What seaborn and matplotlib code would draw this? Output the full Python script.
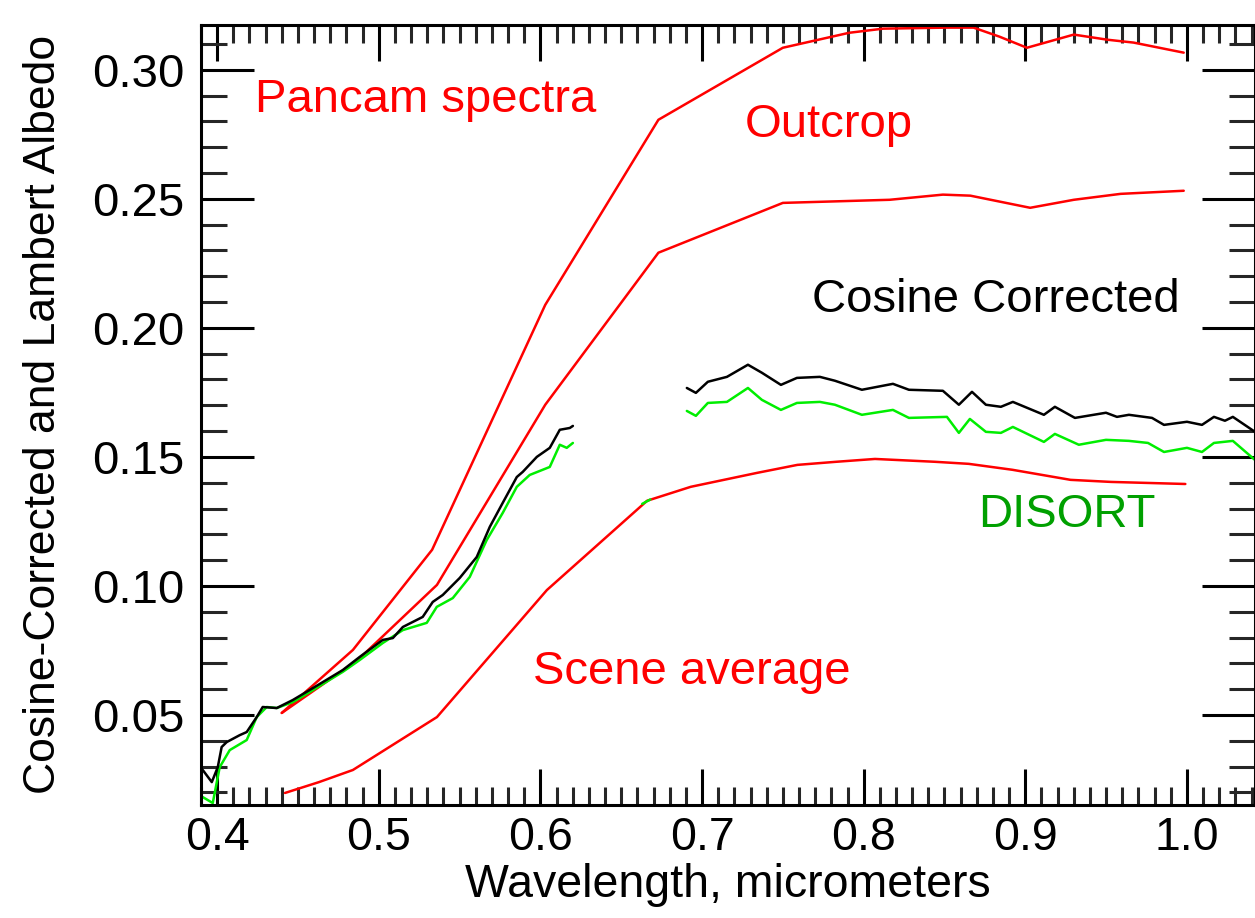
import numpy as np
import pandas as pd
import matplotlib
matplotlib.use("Agg")
import matplotlib.pyplot as plt
import seaborn as sns
from matplotlib.ticker import MultipleLocator

# Pancam spectra (red)
outcrop_hi_wl = [0.440, 0.484, 0.533, 0.603, 0.673, 0.750, 0.791, 0.812, 0.851, 0.868,
                 0.884, 0.901, 0.930, 0.951, 0.967, 0.998]
outcrop_hi_alb = [0.0508, 0.0752, 0.1140, 0.2089, 0.2806, 0.3085, 0.3143, 0.3159, 0.3163, 0.3163,
                  0.3128, 0.3085, 0.3136, 0.3116, 0.3105, 0.3066]

outcrop_lo_wl = [0.440, 0.487, 0.536, 0.603, 0.673, 0.750, 0.816, 0.849, 0.866, 0.903,
                 0.930, 0.959, 0.998]
outcrop_lo_alb = [0.0508, 0.0713, 0.1004, 0.1702, 0.2291, 0.2484, 0.2496, 0.2516, 0.2512, 0.2465,
                  0.2496, 0.2519, 0.2531]

scene_wl = [0.442, 0.463, 0.484, 0.536, 0.604, 0.666, 0.693, 0.734, 0.759, 0.783, 0.807,
            0.844, 0.865, 0.892, 0.928, 0.953, 0.999]
scene_alb = [0.0198, 0.0240, 0.0287, 0.0492, 0.0984, 0.1330, 0.1384, 0.1438, 0.1469, 0.1481, 0.1492,
             0.1481, 0.1473, 0.1450, 0.1411, 0.1403, 0.1395]

# Cosine corrected (black), two pieces
cos1_wl = [0.3911, 0.3967, 0.4004, 0.4028, 0.4059, 0.4140, 0.4183, 0.4245, 0.4282, 0.4369,
           0.4468, 0.4573, 0.4777, 0.4882, 0.5025, 0.5087, 0.5149, 0.5272, 0.5334, 0.5396,
           0.5501, 0.5606, 0.5687, 0.5767, 0.5854, 0.5891, 0.5978, 0.6058, 0.6120, 0.6182, 0.6201]
cos1_alb = [0.0287, 0.0240, 0.0298, 0.0376, 0.0395, 0.0422, 0.0434, 0.0492, 0.0531, 0.0527,
            0.0558, 0.0597, 0.0674, 0.0725, 0.0791, 0.0798, 0.0841, 0.0880, 0.0938, 0.0965,
            0.1031, 0.1112, 0.1229, 0.1322, 0.1422, 0.1442, 0.1500, 0.1535, 0.1605, 0.1612, 0.1620]

cos2_wl = [0.6906, 0.6962, 0.7036, 0.7154, 0.7284, 0.7370, 0.7488, 0.7587, 0.7729, 0.7822,
           0.7989, 0.8181, 0.8280, 0.8490, 0.8589, 0.8670, 0.8756, 0.8849, 0.8923, 0.9115,
           0.9183, 0.9307, 0.9499, 0.9567, 0.9641, 0.9784, 0.9858, 1.0000, 1.0093, 1.0167,
           1.0235, 1.0284, 1.0421]
cos2_alb = [0.1767, 0.1748, 0.1791, 0.1810, 0.1857, 0.1826, 0.1779, 0.1806, 0.1810, 0.1795,
            0.1760, 0.1783, 0.1760, 0.1756, 0.1702, 0.1752, 0.1702, 0.1694, 0.1713, 0.1663,
            0.1694, 0.1651, 0.1671, 0.1655, 0.1663, 0.1651, 0.1624, 0.1636, 0.1624, 0.1655,
            0.1640, 0.1655, 0.1597]

# DISORT Lambert albedo (green), two pieces
dis1_wl = [0.3911, 0.3973, 0.4016, 0.4078, 0.4183, 0.4245, 0.4307, 0.4369, 0.4468, 0.4573,
           0.4777, 0.4882, 0.5025, 0.5149, 0.5297, 0.5359, 0.5458, 0.5563, 0.5668, 0.5767,
           0.5854, 0.5934, 0.6058, 0.6120, 0.6163, 0.6201]
dis1_alb = [0.0182, 0.0159, 0.0298, 0.0364, 0.0403, 0.0492, 0.0531, 0.0527, 0.0550, 0.0589,
            0.0667, 0.0713, 0.0779, 0.0829, 0.0857, 0.0919, 0.0953, 0.1035, 0.1178, 0.1283,
            0.1384, 0.1430, 0.1461, 0.1547, 0.1535, 0.1554]

dis2_wl = [0.6906, 0.6962, 0.7036, 0.7154, 0.7284, 0.7370, 0.7488, 0.7587, 0.7729, 0.7822,
           0.7989, 0.8181, 0.8280, 0.8515, 0.8589, 0.8657, 0.8756, 0.8849, 0.8923, 0.9115,
           0.9183, 0.9331, 0.9499, 0.9641, 0.9759, 0.9858, 1.0000, 1.0093, 1.0167, 1.0284, 1.0421]
dis2_alb = [0.1678, 0.1659, 0.1709, 0.1713, 0.1767, 0.1721, 0.1682, 0.1709, 0.1713, 0.1702,
            0.1663, 0.1682, 0.1651, 0.1655, 0.1593, 0.1647, 0.1597, 0.1593, 0.1616, 0.1558,
            0.1589, 0.1547, 0.1566, 0.1562, 0.1554, 0.1519, 0.1535, 0.1519, 0.1554, 0.1562, 0.1488]

dis3_wl = [0.663, 0.668]
dis3_alb = [0.1318, 0.1335]

series = [
    (outcrop_hi_wl, outcrop_hi_alb, "#ff0000"),
    (outcrop_lo_wl, outcrop_lo_alb, "#ff0000"),
    (scene_wl, scene_alb, "#ff0000"),
    (dis1_wl, dis1_alb, "#00ee00"),
    (dis2_wl, dis2_alb, "#00ee00"),
    (dis3_wl, dis3_alb, "#00ee00"),
    (cos1_wl, cos1_alb, "black"),
    (cos2_wl, cos2_alb, "black"),
]

sns.set_theme(style="ticks")
plt.rcParams['font.family'] = ['Liberation Sans', 'DejaVu Sans']

fig = plt.figure(figsize=(12.55, 9.18), dpi=100)
ax = fig.add_axes([0.160, 0.123, 0.840, 0.850])

for wl, alb, col in series:
    df = pd.DataFrame({"wl": wl, "alb": alb})
    sns.lineplot(data=df, x="wl", y="alb", ax=ax, color=col, lw=1.8,
                 estimator=None, sort=False)

ax.set_xlim(0.3899, 1.0421)
ax.set_ylim(0.0151, 0.3174)
ax.xaxis.set_major_locator(MultipleLocator(0.1))
ax.xaxis.set_minor_locator(MultipleLocator(0.01))
ax.yaxis.set_major_locator(MultipleLocator(0.05))
ax.yaxis.set_minor_locator(MultipleLocator(0.01))
ax.xaxis.set_major_formatter(plt.FuncFormatter(lambda v, p: f"{v:.1f}"))
ax.yaxis.set_major_formatter(plt.FuncFormatter(lambda v, p: f"{v:.2f}"))

ax.tick_params(axis='x', which='major', direction='in', length=26, width=2.2,
               top=True, bottom=True, labelsize=33.5, pad=8, colors='black')
ax.tick_params(axis='x', which='minor', direction='in', length=13, width=2.2,
               top=True, bottom=True)
ax.tick_params(axis='y', which='major', direction='in', length=38, width=2.2,
               left=True, right=True, labelsize=34, pad=12, colors='black')
ax.tick_params(axis='y', which='minor', direction='in', length=19, width=2.2,
               left=True, right=True)
for s in ax.spines.values():
    s.set_visible(True)
    s.set_linewidth(2.2)
    s.set_color('black')

ax.set_xlabel("Wavelength, micrometers", fontsize=33.5, labelpad=2, color='black')
ax.set_ylabel("Cosine-Corrected and Lambert Albedo", fontsize=32, labelpad=20, color='black')

ax.text(0.4233, 0.2884, "Pancam spectra", color="#ff0000", fontsize=34, va='center')
ax.text(0.7265, 0.2787, "Outcrop", color="#ff0000", fontsize=34, va='center')
ax.text(0.768, 0.2109, "Cosine Corrected", color="black", fontsize=34, va='center')
ax.text(0.8706, 0.1275, "DISORT", color="#00a000", fontsize=34, va='center')
ax.text(0.5954, 0.0667, "Scene average", color="#ff0000", fontsize=34, va='center')

fig.savefig("out.png", dpi=100)
